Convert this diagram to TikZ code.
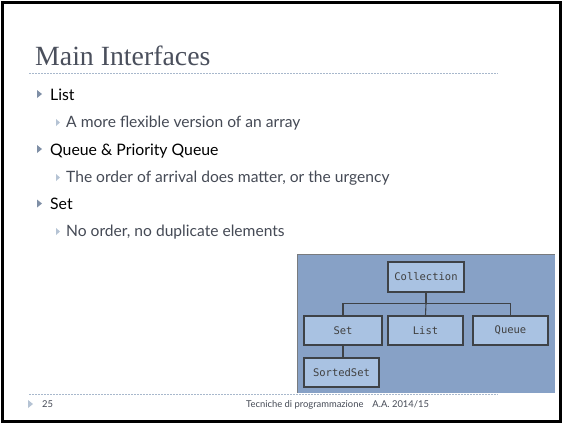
\documentclass[tikz,border=0pt]{standalone}
\usepackage{fontspec}
\setmainfont{Lato}
\newfontfamily\titlefont{Liberation Serif}
\newfontfamily\boxfont{DejaVu Sans Mono}
\definecolor{titlegray}{HTML}{4A4F5C}
\definecolor{subgray}{HTML}{454A55}
\definecolor{rulecol}{HTML}{A8B8CC}
\definecolor{bulA}{HTML}{7F8FA6}
\definecolor{bulB}{HTML}{B5C3D4}
\definecolor{panel}{HTML}{87A1C6}
\definecolor{boxfill}{HTML}{A9C2E2}
\definecolor{boxline}{HTML}{3E4247}
\tikzset{
  mainbul/.style={fill=bulA},
  subbul/.style={fill=bulB},
  maintext/.style={anchor=base west,inner sep=0pt,font=\fontsize{15.8}{19}\selectfont,text=black},
  subtext/.style={anchor=base west,inner sep=0pt,font=\fontsize{15.6}{18}\selectfont,text=subgray},
  cbox/.style={draw=boxline,line width=1.2pt,fill=boxfill,inner sep=0pt,font=\boxfont\fontsize{10.5}{12}\selectfont,text=black!75},
  conn/.style={draw=boxline,line width=1.1pt},
  dotrule/.style={draw=rulecol,dash pattern=on 1.5pt off 1.5pt,line width=0.6pt}
}
\begin{document}
\begin{tikzpicture}[x=1pt,y=-1pt]
\useasboundingbox (0,0) rectangle (563,424);
\fill[white] (0,0) rectangle (563,424);
\draw[black,line width=3pt] (2,2.5) rectangle (560.5,421.5);
% title
\node[anchor=base west,inner sep=0pt,font=\titlefont\fontsize{27.8}{32}\selectfont,text=titlegray] (title) at (35,65) {Main Interfaces};
\draw[dotrule] (29,73) -- (498,73);
% bullets
\fill[mainbul] (37,90) -- (42,94) -- (37,98) -- cycle;
\node[maintext] (b1) at (50,100) {List};
\fill[subbul] (56,119) -- (60,122.5) -- (56,126) -- cycle;
\node[subtext] (s1) at (66,127.7) {A more flexible version of an array};
\fill[mainbul] (37,145) -- (42,149) -- (37,153) -- cycle;
\node[maintext] (b2) at (50,155) {Queue \& Priority Queue};
\fill[subbul] (56,174) -- (60,177.5) -- (56,181) -- cycle;
\node[subtext] (s2) at (66,182.7) {The order of arrival does matter, or the urgency};
\fill[mainbul] (37,199.5) -- (42,203.5) -- (37,207.5) -- cycle;
\node[maintext] (b3) at (50,209.3) {Set};
\fill[subbul] (56,228) -- (60,231.5) -- (56,235) -- cycle;
\node[subtext] (s3) at (66,236.7) {No order, no duplicate elements};
% footer
\draw[dotrule] (29,394) -- (498,394);
\fill[bulB] (28,400) -- (33,404) -- (28,408) -- cycle;
\node[anchor=base west,inner sep=0pt,font=\fontsize{9.4}{11}\selectfont,text=subgray] (pg) at (42,407) {25};
\node[anchor=base west,inner sep=0pt,font=\fontsize{9.4}{11}\selectfont,text=subgray] (ft) at (246,407) {Tecniche di programmazione\hspace{9pt}A.A. 2014/15};
% diagram panel
\fill[panel] (297,254) rectangle (555,393);
\draw[boxline!70,line width=1pt] (297,254.5) -- (555,254.5);
\draw[boxline!70,line width=1pt] (297.5,254) -- (297.5,393);
\node[cbox,minimum width=76pt,minimum height=30pt] (coll) at (426,277) {Collection};
\node[cbox,minimum width=78pt,minimum height=29pt] (set) at (343,330.5) {Set};
\node[cbox,minimum width=75pt,minimum height=29pt] (list) at (425.5,330.5) {List};
\node[cbox,minimum width=75pt,minimum height=29pt] (queue) at (510.5,330.5) {Queue};
\node[cbox,minimum width=75pt,minimum height=29pt] (sset) at (341.5,372.5) {SortedSet};
\coordinate (hj) at (coll.south |- 0,303.5);
\draw[conn] (coll.south) -- (hj);
\draw[conn] (set.north) |- (hj) -| (queue.north);
\draw[conn] (hj) -- (list.north);
\draw[conn] (set.south) -- (sset.north -| set.south);
\end{tikzpicture}
\end{document}
